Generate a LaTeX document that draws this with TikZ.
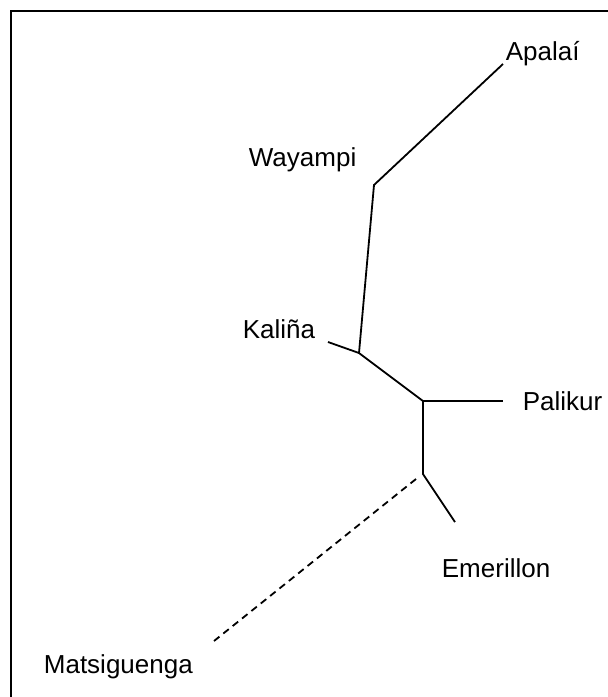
\documentclass[tikz,border=0pt]{standalone}
\usepackage{fontspec}
\setmainfont{Liberation Sans}
\usetikzlibrary{positioning}
\tikzset{
  every picture/.style={line width=0.9pt},
  leaf/.style={font=\fontsize{13}{15}\selectfont, inner sep=0pt, anchor=base west},
  branch/.style={draw=black},
  unsure/.style={branch, dash pattern=on 3.5pt off 2.5pt},
}
\begin{document}
\begin{tikzpicture}[x=0.5pt, y=-0.5pt]
  \useasboundingbox (0,0) rectangle (608,697);
  % frame
  \draw (11,697) -- (11,11) -- (608,11);
  % leaves
  \node[leaf] (apalai) at (505,60) {Apalaí};
  \node[leaf] (wayampi) at (248,166) {Wayampi};
  \node[leaf] (kalina) at (242,338) {Kaliña};
  \node[leaf] (palikur) at (522,410) {Palikur};
  \node[leaf] (emerillon) at (441,577) {Emerillon};
  \node[leaf] (matsiguenga) at (43,673) {Matsiguenga};
  % tree points
  \coordinate (tApalai) at (503,64);
  \coordinate (jWayampi) at (374,185);
  \coordinate (jKalina) at (359,353);
  \coordinate (tKalina) at (328,342);
  \coordinate (jPalikur) at (423,401);
  \coordinate (tPalikur) at (503,401);
  \coordinate (jEmerillon) at (423,474);
  \coordinate (tEmerillon) at (455,522);
  \coordinate (dStart) at (416,479);
  \coordinate (tMatsiguenga) at (214,641);
  % branches
  \draw[branch] (tApalai) -- (jWayampi) -- (jKalina) -- (jPalikur) -- (jEmerillon) -- (tEmerillon);
  \draw[branch] (jKalina) -- (tKalina);
  \draw[branch] (jPalikur) -- (tPalikur);
  \draw[unsure] (dStart) -- (tMatsiguenga);
\end{tikzpicture}
\end{document}
